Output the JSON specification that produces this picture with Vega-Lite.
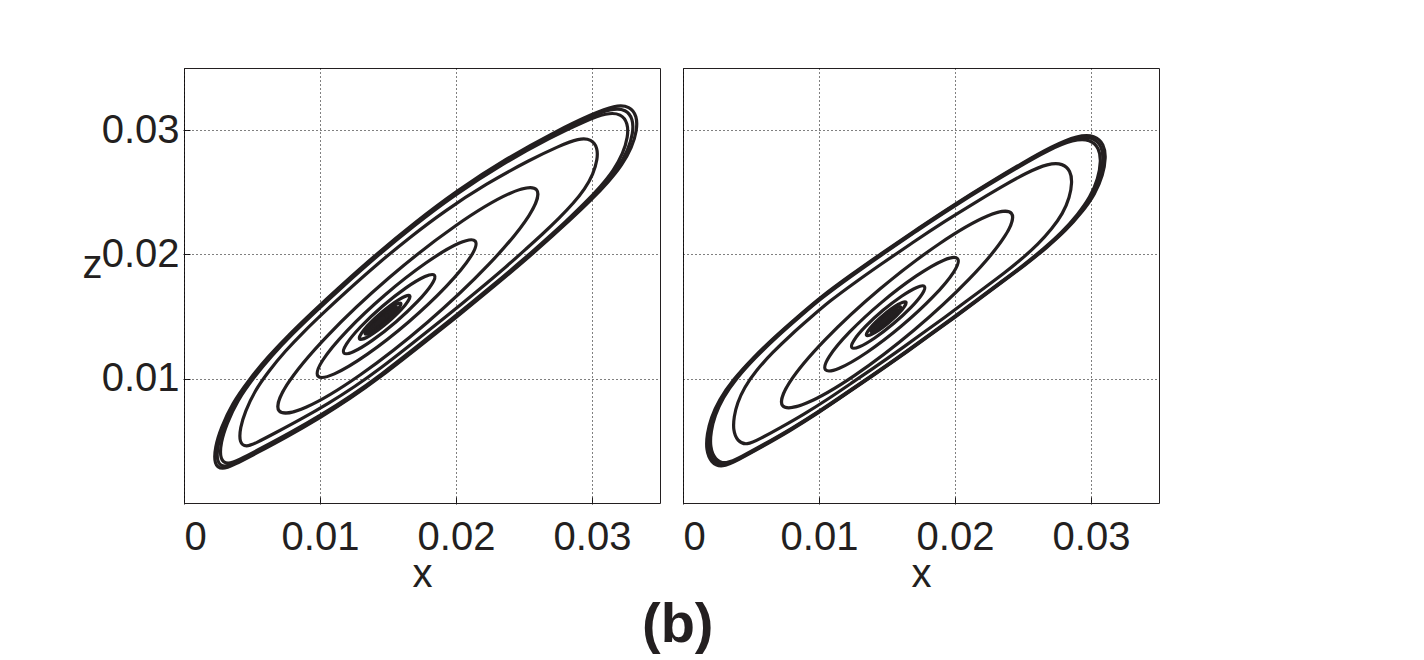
{
"$schema": "https://vega.github.io/schema/vega-lite/v6.json",
"background": "white",
"padding": {"left": 82, "top": 67, "right": 5, "bottom": 5},
"data": {"values": [
{"p":"L","l":"L1","i":1,"x":0.002206,"z":0.003065},{"p":"L","l":"L1","i":2,"x":0.002279,"z":0.004516},{"p":"L","l":"L1","i":3,"x":0.002721,"z":0.006048},{"p":"L","l":"L1","i":4,"x":0.003529,"z":0.007984},{"p":"L","l":"L1","i":5,"x":0.004779,"z":0.009919},{"p":"L","l":"L1","i":6,"x":0.006176,"z":0.011774},{"p":"L","l":"L1","i":7,"x":0.007794,"z":0.013629},{"p":"L","l":"L1","i":8,"x":0.009559,"z":0.015484},{"p":"L","l":"L1","i":9,"x":0.011471,"z":0.017419},{"p":"L","l":"L1","i":10,"x":0.014118,"z":0.02},{"p":"L","l":"L1","i":11,"x":0.016985,"z":0.022581},{"p":"L","l":"L1","i":12,"x":0.02,"z":0.025081},{"p":"L","l":"L1","i":13,"x":0.023603,"z":0.027661},{"p":"L","l":"L1","i":14,"x":0.0275,"z":0.03},{"p":"L","l":"L1","i":15,"x":0.03,"z":0.03129},{"p":"L","l":"L1","i":16,"x":0.031691,"z":0.032016},{"p":"L","l":"L1","i":17,"x":0.032794,"z":0.031935},{"p":"L","l":"L1","i":18,"x":0.033309,"z":0.031129},{"p":"L","l":"L1","i":19,"x":0.033309,"z":0.03},{"p":"L","l":"L1","i":20,"x":0.032941,"z":0.028629},{"p":"L","l":"L1","i":21,"x":0.032206,"z":0.027177},{"p":"L","l":"L1","i":22,"x":0.03125,"z":0.025887},{"p":"L","l":"L1","i":23,"x":0.03,"z":0.024435},{"p":"L","l":"L1","i":24,"x":0.028529,"z":0.022903},{"p":"L","l":"L1","i":25,"x":0.027059,"z":0.021452},{"p":"L","l":"L1","i":26,"x":0.025588,"z":0.02},{"p":"L","l":"L1","i":27,"x":0.022794,"z":0.017419},{"p":"L","l":"L1","i":28,"x":0.02,"z":0.014919},{"p":"L","l":"L1","i":29,"x":0.017206,"z":0.0125},{"p":"L","l":"L1","i":30,"x":0.014485,"z":0.010161},{"p":"L","l":"L1","i":31,"x":0.012206,"z":0.008387},{"p":"L","l":"L1","i":32,"x":0.01,"z":0.006855},{"p":"L","l":"L1","i":33,"x":0.007574,"z":0.005323},{"p":"L","l":"L1","i":34,"x":0.005221,"z":0.003952},{"p":"L","l":"L1","i":35,"x":0.003676,"z":0.003065},{"p":"L","l":"L1","i":36,"x":0.002794,"z":0.002661},
{"p":"L","l":"L2","i":1,"x":0.002388,"z":0.003238},{"p":"L","l":"L2","i":2,"x":0.00246,"z":0.004667},{"p":"L","l":"L2","i":3,"x":0.002895,"z":0.006176},{"p":"L","l":"L2","i":4,"x":0.003691,"z":0.008083},{"p":"L","l":"L2","i":5,"x":0.004922,"z":0.009989},{"p":"L","l":"L2","i":6,"x":0.006298,"z":0.011816},{"p":"L","l":"L2","i":7,"x":0.007892,"z":0.013644},{"p":"L","l":"L2","i":8,"x":0.009631,"z":0.015471},{"p":"L","l":"L2","i":9,"x":0.011514,"z":0.017377},{"p":"L","l":"L2","i":10,"x":0.014121,"z":0.019919},{"p":"L","l":"L2","i":11,"x":0.016945,"z":0.022461},{"p":"L","l":"L2","i":12,"x":0.019915,"z":0.024924},{"p":"L","l":"L2","i":13,"x":0.023464,"z":0.027465},{"p":"L","l":"L2","i":14,"x":0.027303,"z":0.029769},{"p":"L","l":"L2","i":15,"x":0.029765,"z":0.03104},{"p":"L","l":"L2","i":16,"x":0.031431,"z":0.031755},{"p":"L","l":"L2","i":17,"x":0.032517,"z":0.031675},{"p":"L","l":"L2","i":18,"x":0.033024,"z":0.030881},{"p":"L","l":"L2","i":19,"x":0.033024,"z":0.029769},{"p":"L","l":"L2","i":20,"x":0.032662,"z":0.028419},{"p":"L","l":"L2","i":21,"x":0.031938,"z":0.026988},{"p":"L","l":"L2","i":22,"x":0.030996,"z":0.025718},{"p":"L","l":"L2","i":23,"x":0.029765,"z":0.024287},{"p":"L","l":"L2","i":24,"x":0.028316,"z":0.022778},{"p":"L","l":"L2","i":25,"x":0.026868,"z":0.021349},{"p":"L","l":"L2","i":26,"x":0.025419,"z":0.019919},{"p":"L","l":"L2","i":27,"x":0.022667,"z":0.017377},{"p":"L","l":"L2","i":28,"x":0.019915,"z":0.014914},{"p":"L","l":"L2","i":29,"x":0.017163,"z":0.012531},{"p":"L","l":"L2","i":30,"x":0.014483,"z":0.010228},{"p":"L","l":"L2","i":31,"x":0.012238,"z":0.00848},{"p":"L","l":"L2","i":32,"x":0.010065,"z":0.006971},{"p":"L","l":"L2","i":33,"x":0.007675,"z":0.005462},{"p":"L","l":"L2","i":34,"x":0.005358,"z":0.004112},{"p":"L","l":"L2","i":35,"x":0.003836,"z":0.003238},{"p":"L","l":"L2","i":36,"x":0.002967,"z":0.00284},
{"p":"L","l":"L3","i":1,"x":0.002631,"z":0.003469},{"p":"L","l":"L3","i":2,"x":0.002701,"z":0.004869},{"p":"L","l":"L3","i":3,"x":0.003128,"z":0.006347},{"p":"L","l":"L3","i":4,"x":0.003907,"z":0.008215},{"p":"L","l":"L3","i":5,"x":0.005114,"z":0.010083},{"p":"L","l":"L3","i":6,"x":0.006462,"z":0.011873},{"p":"L","l":"L3","i":7,"x":0.008023,"z":0.013663},{"p":"L","l":"L3","i":8,"x":0.009726,"z":0.015453},{"p":"L","l":"L3","i":9,"x":0.011571,"z":0.01732},{"p":"L","l":"L3","i":10,"x":0.014126,"z":0.019811},{"p":"L","l":"L3","i":11,"x":0.016892,"z":0.022302},{"p":"L","l":"L3","i":12,"x":0.019802,"z":0.024714},{"p":"L","l":"L3","i":13,"x":0.023279,"z":0.027204},{"p":"L","l":"L3","i":14,"x":0.027039,"z":0.029461},{"p":"L","l":"L3","i":15,"x":0.029452,"z":0.030706},{"p":"L","l":"L3","i":16,"x":0.031084,"z":0.031406},{"p":"L","l":"L3","i":17,"x":0.032148,"z":0.031328},{"p":"L","l":"L3","i":18,"x":0.032645,"z":0.03055},{"p":"L","l":"L3","i":19,"x":0.032645,"z":0.029461},{"p":"L","l":"L3","i":20,"x":0.03229,"z":0.028138},{"p":"L","l":"L3","i":21,"x":0.031581,"z":0.026737},{"p":"L","l":"L3","i":22,"x":0.030658,"z":0.025492},{"p":"L","l":"L3","i":23,"x":0.029452,"z":0.024091},{"p":"L","l":"L3","i":24,"x":0.028032,"z":0.022612},{"p":"L","l":"L3","i":25,"x":0.026614,"z":0.021212},{"p":"L","l":"L3","i":26,"x":0.025194,"z":0.019811},{"p":"L","l":"L3","i":27,"x":0.022498,"z":0.01732},{"p":"L","l":"L3","i":28,"x":0.019802,"z":0.014908},{"p":"L","l":"L3","i":29,"x":0.017106,"z":0.012573},{"p":"L","l":"L3","i":30,"x":0.01448,"z":0.010316},{"p":"L","l":"L3","i":31,"x":0.012281,"z":0.008604},{"p":"L","l":"L3","i":32,"x":0.010152,"z":0.007126},{"p":"L","l":"L3","i":33,"x":0.007811,"z":0.005648},{"p":"L","l":"L3","i":34,"x":0.00554,"z":0.004325},{"p":"L","l":"L3","i":35,"x":0.004049,"z":0.003469},{"p":"L","l":"L3","i":36,"x":0.003198,"z":0.003079},
{"p":"L","l":"L4","i":1,"x":0.004062,"z":0.004829},{"p":"L","l":"L4","i":2,"x":0.004124,"z":0.006058},{"p":"L","l":"L4","i":3,"x":0.004498,"z":0.007356},{"p":"L","l":"L4","i":4,"x":0.005183,"z":0.008996},{"p":"L","l":"L4","i":5,"x":0.006242,"z":0.010635},{"p":"L","l":"L4","i":6,"x":0.007425,"z":0.012206},{"p":"L","l":"L4","i":7,"x":0.008795,"z":0.013777},{"p":"L","l":"L4","i":8,"x":0.01029,"z":0.015348},{"p":"L","l":"L4","i":9,"x":0.01191,"z":0.016987},{"p":"L","l":"L4","i":10,"x":0.014152,"z":0.019173},{"p":"L","l":"L4","i":11,"x":0.01658,"z":0.021359},{"p":"L","l":"L4","i":12,"x":0.019134,"z":0.023477},{"p":"L","l":"L4","i":13,"x":0.022185,"z":0.025662},{"p":"L","l":"L4","i":14,"x":0.025486,"z":0.027643},{"p":"L","l":"L4","i":15,"x":0.027604,"z":0.028736},{"p":"L","l":"L4","i":16,"x":0.029036,"z":0.029351},{"p":"L","l":"L4","i":17,"x":0.02997,"z":0.029282},{"p":"L","l":"L4","i":18,"x":0.030406,"z":0.0286},{"p":"L","l":"L4","i":19,"x":0.030406,"z":0.027643},{"p":"L","l":"L4","i":20,"x":0.030095,"z":0.026482},{"p":"L","l":"L4","i":21,"x":0.029472,"z":0.025252},{"p":"L","l":"L4","i":22,"x":0.028662,"z":0.02416},{"p":"L","l":"L4","i":23,"x":0.027604,"z":0.02293},{"p":"L","l":"L4","i":24,"x":0.026358,"z":0.021632},{"p":"L","l":"L4","i":25,"x":0.025113,"z":0.020403},{"p":"L","l":"L4","i":26,"x":0.023867,"z":0.019173},{"p":"L","l":"L4","i":27,"x":0.0215,"z":0.016987},{"p":"L","l":"L4","i":28,"x":0.019134,"z":0.01487},{"p":"L","l":"L4","i":29,"x":0.016767,"z":0.012821},{"p":"L","l":"L4","i":30,"x":0.014463,"z":0.01084},{"p":"L","l":"L4","i":31,"x":0.012532,"z":0.009337},{"p":"L","l":"L4","i":32,"x":0.010664,"z":0.00804},{"p":"L","l":"L4","i":33,"x":0.008609,"z":0.006742},{"p":"L","l":"L4","i":34,"x":0.006616,"z":0.005581},{"p":"L","l":"L4","i":35,"x":0.005307,"z":0.004829},{"p":"L","l":"L4","i":36,"x":0.00456,"z":0.004487},
{"p":"L","l":"L5","i":1,"x":0.025921,"z":0.025198},{"p":"L","l":"L5","i":2,"x":0.025356,"z":0.023108},{"p":"L","l":"L5","i":3,"x":0.022407,"z":0.019195},{"p":"L","l":"L5","i":4,"x":0.017864,"z":0.014508},{"p":"L","l":"L5","i":5,"x":0.012945,"z":0.010302},{"p":"L","l":"L5","i":6,"x":0.008969,"z":0.007705},{"p":"L","l":"L5","i":7,"x":0.006999,"z":0.007412},{"p":"L","l":"L5","i":8,"x":0.007564,"z":0.009503},{"p":"L","l":"L5","i":9,"x":0.010513,"z":0.013415},{"p":"L","l":"L5","i":10,"x":0.015056,"z":0.018102},{"p":"L","l":"L5","i":11,"x":0.019975,"z":0.022308},{"p":"L","l":"L5","i":12,"x":0.023951,"z":0.024905},
{"p":"L","l":"L6","i":1,"x":0.021412,"z":0.021072},{"p":"L","l":"L6","i":2,"x":0.021067,"z":0.019795},{"p":"L","l":"L6","i":3,"x":0.019266,"z":0.017405},{"p":"L","l":"L6","i":4,"x":0.016492,"z":0.014543},{"p":"L","l":"L6","i":5,"x":0.013487,"z":0.011974},{"p":"L","l":"L6","i":6,"x":0.011059,"z":0.010388},{"p":"L","l":"L6","i":7,"x":0.009856,"z":0.010209},{"p":"L","l":"L6","i":8,"x":0.010201,"z":0.011486},{"p":"L","l":"L6","i":9,"x":0.012002,"z":0.013875},{"p":"L","l":"L6","i":10,"x":0.014776,"z":0.016738},{"p":"L","l":"L6","i":11,"x":0.017781,"z":0.019307},{"p":"L","l":"L6","i":12,"x":0.020209,"z":0.020893},
{"p":"L","l":"L7","i":1,"x":0.018413,"z":0.018326},{"p":"L","l":"L7","i":2,"x":0.018214,"z":0.017591},{"p":"L","l":"L7","i":3,"x":0.017177,"z":0.016215},{"p":"L","l":"L7","i":4,"x":0.015578,"z":0.014566},{"p":"L","l":"L7","i":5,"x":0.013848,"z":0.013086},{"p":"L","l":"L7","i":6,"x":0.012449,"z":0.012172},{"p":"L","l":"L7","i":7,"x":0.011756,"z":0.012069},{"p":"L","l":"L7","i":8,"x":0.011955,"z":0.012805},{"p":"L","l":"L7","i":9,"x":0.012992,"z":0.014181},{"p":"L","l":"L7","i":10,"x":0.014591,"z":0.01583},{"p":"L","l":"L7","i":11,"x":0.016321,"z":0.01731},{"p":"L","l":"L7","i":12,"x":0.01772,"z":0.018223},
{"p":"L","l":"L8","i":1,"x":0.016602,"z":0.016669},{"p":"L","l":"L8","i":2,"x":0.016254,"z":0.015911},{"p":"L","l":"L8","i":3,"x":0.015027,"z":0.01458},{"p":"L","l":"L8","i":4,"x":0.013639,"z":0.013453},{"p":"L","l":"L8","i":5,"x":0.012904,"z":0.013193},{"p":"L","l":"L8","i":6,"x":0.013251,"z":0.01395},{"p":"L","l":"L8","i":7,"x":0.014478,"z":0.015282},{"p":"L","l":"L8","i":8,"x":0.015866,"z":0.016408},
{"p":"L","l":"L9","i":1,"x":0.015942,"z":0.016065},{"p":"L","l":"L9","i":2,"x":0.015695,"z":0.015528},{"p":"L","l":"L9","i":3,"x":0.014826,"z":0.014585},{"p":"L","l":"L9","i":4,"x":0.013843,"z":0.013787},{"p":"L","l":"L9","i":5,"x":0.013322,"z":0.013602},{"p":"L","l":"L9","i":6,"x":0.013568,"z":0.014139},{"p":"L","l":"L9","i":7,"x":0.014437,"z":0.015082},{"p":"L","l":"L9","i":8,"x":0.01542,"z":0.01588},
{"p":"L","l":"L10","i":1,"x":0.015621,"z":0.015771},{"p":"L","l":"L10","i":2,"x":0.015424,"z":0.015342},{"p":"L","l":"L10","i":3,"x":0.014729,"z":0.014587},{"p":"L","l":"L10","i":4,"x":0.013942,"z":0.013949},{"p":"L","l":"L10","i":5,"x":0.013525,"z":0.013801},{"p":"L","l":"L10","i":6,"x":0.013722,"z":0.01423},{"p":"L","l":"L10","i":7,"x":0.014417,"z":0.014985},{"p":"L","l":"L10","i":8,"x":0.015204,"z":0.015623},
{"p":"L","l":"L11","i":1,"x":0.015357,"z":0.015529},{"p":"L","l":"L11","i":2,"x":0.0152,"z":0.015189},{"p":"L","l":"L11","i":3,"x":0.014648,"z":0.014589},{"p":"L","l":"L11","i":4,"x":0.014024,"z":0.014082},{"p":"L","l":"L11","i":5,"x":0.013693,"z":0.013965},{"p":"L","l":"L11","i":6,"x":0.013849,"z":0.014306},{"p":"L","l":"L11","i":7,"x":0.014401,"z":0.014905},{"p":"L","l":"L11","i":8,"x":0.015026,"z":0.015412},
{"p":"L","l":"L12","i":1,"x":0.01513,"z":0.015322},{"p":"L","l":"L12","i":2,"x":0.015009,"z":0.015057},{"p":"L","l":"L12","i":3,"x":0.014579,"z":0.014591},{"p":"L","l":"L12","i":4,"x":0.014093,"z":0.014197},{"p":"L","l":"L12","i":5,"x":0.013836,"z":0.014106},{"p":"L","l":"L12","i":6,"x":0.013958,"z":0.014371},{"p":"L","l":"L12","i":7,"x":0.014387,"z":0.014837},{"p":"L","l":"L12","i":8,"x":0.014873,"z":0.015231},
{"p":"L","l":"L13","i":1,"x":0.014923,"z":0.015132},{"p":"L","l":"L13","i":2,"x":0.014833,"z":0.014937},{"p":"L","l":"L13","i":3,"x":0.014516,"z":0.014593},{"p":"L","l":"L13","i":4,"x":0.014157,"z":0.014302},{"p":"L","l":"L13","i":5,"x":0.013967,"z":0.014234},{"p":"L","l":"L13","i":6,"x":0.014057,"z":0.01443},{"p":"L","l":"L13","i":7,"x":0.014374,"z":0.014774},{"p":"L","l":"L13","i":8,"x":0.014733,"z":0.015065},
{"p":"L","l":"L14","i":1,"x":0.014715,"z":0.014942},{"p":"L","l":"L14","i":2,"x":0.014657,"z":0.014816},{"p":"L","l":"L14","i":3,"x":0.014453,"z":0.014594},{"p":"L","l":"L14","i":4,"x":0.014222,"z":0.014406},{"p":"L","l":"L14","i":5,"x":0.014099,"z":0.014363},{"p":"L","l":"L14","i":6,"x":0.014157,"z":0.014489},{"p":"L","l":"L14","i":7,"x":0.014361,"z":0.014711},{"p":"L","l":"L14","i":8,"x":0.014593,"z":0.014899},
{"p":"R","l":"R1","i":1,"x":0.001691,"z":0.004274},{"p":"R","l":"R1","i":2,"x":0.001765,"z":0.005565},{"p":"R","l":"R1","i":3,"x":0.002059,"z":0.006855},{"p":"R","l":"R1","i":4,"x":0.002647,"z":0.008306},{"p":"R","l":"R1","i":5,"x":0.003676,"z":0.009919},{"p":"R","l":"R1","i":6,"x":0.005074,"z":0.011613},{"p":"R","l":"R1","i":7,"x":0.006765,"z":0.013387},{"p":"R","l":"R1","i":8,"x":0.008456,"z":0.015},{"p":"R","l":"R1","i":9,"x":0.010074,"z":0.016532},{"p":"R","l":"R1","i":10,"x":0.012279,"z":0.018306},{"p":"R","l":"R1","i":11,"x":0.014485,"z":0.02},{"p":"R","l":"R1","i":12,"x":0.017279,"z":0.022097},{"p":"R","l":"R1","i":13,"x":0.020074,"z":0.024113},{"p":"R","l":"R1","i":14,"x":0.022574,"z":0.025806},{"p":"R","l":"R1","i":15,"x":0.024926,"z":0.027339},{"p":"R","l":"R1","i":16,"x":0.027132,"z":0.02871},{"p":"R","l":"R1","i":17,"x":0.029044,"z":0.029597},{"p":"R","l":"R1","i":18,"x":0.030294,"z":0.029597},{"p":"R","l":"R1","i":19,"x":0.030956,"z":0.028871},{"p":"R","l":"R1","i":20,"x":0.031103,"z":0.027823},{"p":"R","l":"R1","i":21,"x":0.030882,"z":0.026371},{"p":"R","l":"R1","i":22,"x":0.030294,"z":0.024839},{"p":"R","l":"R1","i":23,"x":0.029338,"z":0.023387},{"p":"R","l":"R1","i":24,"x":0.028162,"z":0.021935},{"p":"R","l":"R1","i":25,"x":0.026765,"z":0.020565},{"p":"R","l":"R1","i":26,"x":0.02522,"z":0.019194},{"p":"R","l":"R1","i":27,"x":0.023529,"z":0.017823},{"p":"R","l":"R1","i":28,"x":0.021838,"z":0.016452},{"p":"R","l":"R1","i":29,"x":0.020074,"z":0.015},{"p":"R","l":"R1","i":30,"x":0.018015,"z":0.013387},{"p":"R","l":"R1","i":31,"x":0.015882,"z":0.011694},{"p":"R","l":"R1","i":32,"x":0.01375,"z":0.010081},{"p":"R","l":"R1","i":33,"x":0.011912,"z":0.00871},{"p":"R","l":"R1","i":34,"x":0.010074,"z":0.007339},{"p":"R","l":"R1","i":35,"x":0.007868,"z":0.005806},{"p":"R","l":"R1","i":36,"x":0.005662,"z":0.004435},{"p":"R","l":"R1","i":37,"x":0.004044,"z":0.003468},{"p":"R","l":"R1","i":38,"x":0.002868,"z":0.002823},{"p":"R","l":"R1","i":39,"x":0.002059,"z":0.003226},
{"p":"R","l":"R2","i":1,"x":0.001822,"z":0.004378},{"p":"R","l":"R2","i":2,"x":0.001895,"z":0.005656},{"p":"R","l":"R2","i":3,"x":0.002186,"z":0.006933},{"p":"R","l":"R2","i":4,"x":0.002768,"z":0.00837},{"p":"R","l":"R2","i":5,"x":0.003787,"z":0.009967},{"p":"R","l":"R2","i":6,"x":0.005171,"z":0.011644},{"p":"R","l":"R2","i":7,"x":0.006845,"z":0.0134},{"p":"R","l":"R2","i":8,"x":0.008519,"z":0.014997},{"p":"R","l":"R2","i":9,"x":0.010121,"z":0.016513},{"p":"R","l":"R2","i":10,"x":0.012304,"z":0.01827},{"p":"R","l":"R2","i":11,"x":0.014488,"z":0.019947},{"p":"R","l":"R2","i":12,"x":0.017254,"z":0.022023},{"p":"R","l":"R2","i":13,"x":0.020021,"z":0.024019},{"p":"R","l":"R2","i":14,"x":0.022496,"z":0.025695},{"p":"R","l":"R2","i":15,"x":0.024825,"z":0.027212},{"p":"R","l":"R2","i":16,"x":0.027008,"z":0.02857},{"p":"R","l":"R2","i":17,"x":0.028901,"z":0.029448},{"p":"R","l":"R2","i":18,"x":0.030139,"z":0.029448},{"p":"R","l":"R2","i":19,"x":0.030794,"z":0.028729},{"p":"R","l":"R2","i":20,"x":0.03094,"z":0.027692},{"p":"R","l":"R2","i":21,"x":0.030721,"z":0.026254},{"p":"R","l":"R2","i":22,"x":0.030139,"z":0.024737},{"p":"R","l":"R2","i":23,"x":0.029192,"z":0.0233},{"p":"R","l":"R2","i":24,"x":0.028028,"z":0.021862},{"p":"R","l":"R2","i":25,"x":0.026645,"z":0.020506},{"p":"R","l":"R2","i":26,"x":0.025116,"z":0.019149},{"p":"R","l":"R2","i":27,"x":0.023441,"z":0.017792},{"p":"R","l":"R2","i":28,"x":0.021767,"z":0.016434},{"p":"R","l":"R2","i":29,"x":0.020021,"z":0.014997},{"p":"R","l":"R2","i":30,"x":0.017983,"z":0.0134},{"p":"R","l":"R2","i":31,"x":0.015871,"z":0.011724},{"p":"R","l":"R2","i":32,"x":0.01376,"z":0.010127},{"p":"R","l":"R2","i":33,"x":0.011941,"z":0.00877},{"p":"R","l":"R2","i":34,"x":0.010121,"z":0.007412},{"p":"R","l":"R2","i":35,"x":0.007937,"z":0.005895},{"p":"R","l":"R2","i":36,"x":0.005753,"z":0.004537},{"p":"R","l":"R2","i":37,"x":0.004151,"z":0.00358},{"p":"R","l":"R2","i":38,"x":0.002987,"z":0.002942},{"p":"R","l":"R2","i":39,"x":0.002186,"z":0.003341},
{"p":"R","l":"R3","i":1,"x":0.001979,"z":0.004503},{"p":"R","l":"R3","i":2,"x":0.002051,"z":0.005765},{"p":"R","l":"R3","i":3,"x":0.002339,"z":0.007027},{"p":"R","l":"R3","i":4,"x":0.002914,"z":0.008446},{"p":"R","l":"R3","i":5,"x":0.00392,"z":0.010024},{"p":"R","l":"R3","i":6,"x":0.005288,"z":0.01168},{"p":"R","l":"R3","i":7,"x":0.006941,"z":0.013415},{"p":"R","l":"R3","i":8,"x":0.008595,"z":0.014993},{"p":"R","l":"R3","i":9,"x":0.010178,"z":0.016491},{"p":"R","l":"R3","i":10,"x":0.012334,"z":0.018226},{"p":"R","l":"R3","i":11,"x":0.014491,"z":0.019883},{"p":"R","l":"R3","i":12,"x":0.017224,"z":0.021934},{"p":"R","l":"R3","i":13,"x":0.019958,"z":0.023905},{"p":"R","l":"R3","i":14,"x":0.022403,"z":0.025561},{"p":"R","l":"R3","i":15,"x":0.024703,"z":0.02706},{"p":"R","l":"R3","i":16,"x":0.02686,"z":0.028401},{"p":"R","l":"R3","i":17,"x":0.02873,"z":0.029269},{"p":"R","l":"R3","i":18,"x":0.029953,"z":0.029269},{"p":"R","l":"R3","i":19,"x":0.0306,"z":0.028559},{"p":"R","l":"R3","i":20,"x":0.030744,"z":0.027534},{"p":"R","l":"R3","i":21,"x":0.030528,"z":0.026114},{"p":"R","l":"R3","i":22,"x":0.029953,"z":0.024615},{"p":"R","l":"R3","i":23,"x":0.029018,"z":0.023195},{"p":"R","l":"R3","i":24,"x":0.027868,"z":0.021775},{"p":"R","l":"R3","i":25,"x":0.026501,"z":0.020435},{"p":"R","l":"R3","i":26,"x":0.02499,"z":0.019095},{"p":"R","l":"R3","i":27,"x":0.023336,"z":0.017754},{"p":"R","l":"R3","i":28,"x":0.021683,"z":0.016413},{"p":"R","l":"R3","i":29,"x":0.019958,"z":0.014993},{"p":"R","l":"R3","i":30,"x":0.017944,"z":0.013415},{"p":"R","l":"R3","i":31,"x":0.015858,"z":0.01176},{"p":"R","l":"R3","i":32,"x":0.013773,"z":0.010182},{"p":"R","l":"R3","i":33,"x":0.011975,"z":0.008841},{"p":"R","l":"R3","i":34,"x":0.010178,"z":0.0075},{"p":"R","l":"R3","i":35,"x":0.00802,"z":0.006001},{"p":"R","l":"R3","i":36,"x":0.005863,"z":0.00466},{"p":"R","l":"R3","i":37,"x":0.00428,"z":0.003715},{"p":"R","l":"R3","i":38,"x":0.00313,"z":0.003084},{"p":"R","l":"R3","i":39,"x":0.002339,"z":0.003478},
{"p":"R","l":"R4","i":1,"x":0.00368,"z":0.005855},{"p":"R","l":"R4","i":2,"x":0.003743,"z":0.00695},{"p":"R","l":"R4","i":3,"x":0.003992,"z":0.008044},{"p":"R","l":"R4","i":4,"x":0.004491,"z":0.009274},{"p":"R","l":"R4","i":5,"x":0.005364,"z":0.010642},{"p":"R","l":"R4","i":6,"x":0.006549,"z":0.012079},{"p":"R","l":"R4","i":7,"x":0.007983,"z":0.013583},{"p":"R","l":"R4","i":8,"x":0.009417,"z":0.014951},{"p":"R","l":"R4","i":9,"x":0.010789,"z":0.01625},{"p":"R","l":"R4","i":10,"x":0.012659,"z":0.017754},{"p":"R","l":"R4","i":11,"x":0.01453,"z":0.019191},{"p":"R","l":"R4","i":12,"x":0.016899,"z":0.020969},{"p":"R","l":"R4","i":13,"x":0.019269,"z":0.022679},{"p":"R","l":"R4","i":14,"x":0.021389,"z":0.024114},{"p":"R","l":"R4","i":15,"x":0.023384,"z":0.025414},{"p":"R","l":"R4","i":16,"x":0.025254,"z":0.026577},{"p":"R","l":"R4","i":17,"x":0.026876,"z":0.027329},{"p":"R","l":"R4","i":18,"x":0.027936,"z":0.027329},{"p":"R","l":"R4","i":19,"x":0.028497,"z":0.026714},{"p":"R","l":"R4","i":20,"x":0.028622,"z":0.025825},{"p":"R","l":"R4","i":21,"x":0.028434,"z":0.024594},{"p":"R","l":"R4","i":22,"x":0.027936,"z":0.023294},{"p":"R","l":"R4","i":23,"x":0.027125,"z":0.022063},{"p":"R","l":"R4","i":24,"x":0.026128,"z":0.020832},{"p":"R","l":"R4","i":25,"x":0.024943,"z":0.01967},{"p":"R","l":"R4","i":26,"x":0.023633,"z":0.018507},{"p":"R","l":"R4","i":27,"x":0.022199,"z":0.017345},{"p":"R","l":"R4","i":28,"x":0.020765,"z":0.016182},{"p":"R","l":"R4","i":29,"x":0.019269,"z":0.014951},{"p":"R","l":"R4","i":30,"x":0.017523,"z":0.013583},{"p":"R","l":"R4","i":31,"x":0.015714,"z":0.012147},{"p":"R","l":"R4","i":32,"x":0.013906,"z":0.01078},{"p":"R","l":"R4","i":33,"x":0.012348,"z":0.009617},{"p":"R","l":"R4","i":34,"x":0.010789,"z":0.008454},{"p":"R","l":"R4","i":35,"x":0.008918,"z":0.007154},{"p":"R","l":"R4","i":36,"x":0.007048,"z":0.005992},{"p":"R","l":"R4","i":37,"x":0.005676,"z":0.005172},{"p":"R","l":"R4","i":38,"x":0.004678,"z":0.004625},{"p":"R","l":"R4","i":39,"x":0.003992,"z":0.004967},
{"p":"R","l":"R5","i":1,"x":0.024147,"z":0.023305},{"p":"R","l":"R5","i":2,"x":0.02365,"z":0.021444},{"p":"R","l":"R5","i":3,"x":0.021035,"z":0.018008},{"p":"R","l":"R5","i":4,"x":0.016999,"z":0.013917},{"p":"R","l":"R5","i":5,"x":0.012626,"z":0.010268},{"p":"R","l":"R5","i":6,"x":0.009087,"z":0.008039},{"p":"R","l":"R5","i":7,"x":0.00733,"z":0.007826},{"p":"R","l":"R5","i":8,"x":0.007827,"z":0.009687},{"p":"R","l":"R5","i":9,"x":0.010442,"z":0.013123},{"p":"R","l":"R5","i":10,"x":0.014477,"z":0.017214},{"p":"R","l":"R5","i":11,"x":0.018851,"z":0.020863},{"p":"R","l":"R5","i":12,"x":0.022389,"z":0.023092},
{"p":"R","l":"R6","i":1,"x":0.02019,"z":0.01966},{"p":"R","l":"R6","i":2,"x":0.019903,"z":0.018585},{"p":"R","l":"R6","i":3,"x":0.018392,"z":0.016601},{"p":"R","l":"R6","i":4,"x":0.016061,"z":0.014238},{"p":"R","l":"R6","i":5,"x":0.013535,"z":0.012131},{"p":"R","l":"R6","i":6,"x":0.011492,"z":0.010843},{"p":"R","l":"R6","i":7,"x":0.010477,"z":0.01072},{"p":"R","l":"R6","i":8,"x":0.010763,"z":0.011795},{"p":"R","l":"R6","i":9,"x":0.012274,"z":0.01378},{"p":"R","l":"R6","i":10,"x":0.014605,"z":0.016142},{"p":"R","l":"R6","i":11,"x":0.017131,"z":0.01825},{"p":"R","l":"R6","i":12,"x":0.019175,"z":0.019538},
{"p":"R","l":"R7","i":1,"x":0.017751,"z":0.017414},{"p":"R","l":"R7","i":2,"x":0.017593,"z":0.016824},{"p":"R","l":"R7","i":3,"x":0.016764,"z":0.015734},{"p":"R","l":"R7","i":4,"x":0.015483,"z":0.014436},{"p":"R","l":"R7","i":5,"x":0.014096,"z":0.013278},{"p":"R","l":"R7","i":6,"x":0.012973,"z":0.012571},{"p":"R","l":"R7","i":7,"x":0.012416,"z":0.012504},{"p":"R","l":"R7","i":8,"x":0.012573,"z":0.013094},{"p":"R","l":"R7","i":9,"x":0.013403,"z":0.014184},{"p":"R","l":"R7","i":10,"x":0.014683,"z":0.015482},{"p":"R","l":"R7","i":11,"x":0.016071,"z":0.016639},{"p":"R","l":"R7","i":12,"x":0.017193,"z":0.017347},
{"p":"R","l":"R8","i":1,"x":0.016394,"z":0.016165},{"p":"R","l":"R8","i":2,"x":0.016123,"z":0.015573},{"p":"R","l":"R8","i":3,"x":0.015162,"z":0.014546},{"p":"R","l":"R8","i":4,"x":0.014073,"z":0.013686},{"p":"R","l":"R8","i":5,"x":0.013495,"z":0.013496},{"p":"R","l":"R8","i":6,"x":0.013766,"z":0.014088},{"p":"R","l":"R8","i":7,"x":0.014727,"z":0.015114},{"p":"R","l":"R8","i":8,"x":0.015816,"z":0.015975},
{"p":"R","l":"R9","i":1,"x":0.01599,"z":0.015793},{"p":"R","l":"R9","i":2,"x":0.015787,"z":0.015349},{"p":"R","l":"R9","i":3,"x":0.015066,"z":0.014579},{"p":"R","l":"R9","i":4,"x":0.014249,"z":0.013933},{"p":"R","l":"R9","i":5,"x":0.013816,"z":0.013791},{"p":"R","l":"R9","i":6,"x":0.014019,"z":0.014235},{"p":"R","l":"R9","i":7,"x":0.01474,"z":0.015005},{"p":"R","l":"R9","i":8,"x":0.015557,"z":0.01565},
{"p":"R","l":"R10","i":1,"x":0.015748,"z":0.01557},{"p":"R","l":"R10","i":2,"x":0.015586,"z":0.015214},{"p":"R","l":"R10","i":3,"x":0.015009,"z":0.014598},{"p":"R","l":"R10","i":4,"x":0.014355,"z":0.014082},{"p":"R","l":"R10","i":5,"x":0.014008,"z":0.013968},{"p":"R","l":"R10","i":6,"x":0.014171,"z":0.014323},{"p":"R","l":"R10","i":7,"x":0.014748,"z":0.014939},{"p":"R","l":"R10","i":8,"x":0.015401,"z":0.015456},
{"p":"R","l":"R11","i":1,"x":0.015538,"z":0.015376},{"p":"R","l":"R11","i":2,"x":0.015411,"z":0.015098},{"p":"R","l":"R11","i":3,"x":0.014959,"z":0.014615},{"p":"R","l":"R11","i":4,"x":0.014447,"z":0.014211},{"p":"R","l":"R11","i":5,"x":0.014175,"z":0.014122},{"p":"R","l":"R11","i":6,"x":0.014303,"z":0.0144},{"p":"R","l":"R11","i":7,"x":0.014755,"z":0.014883},{"p":"R","l":"R11","i":8,"x":0.015266,"z":0.015287},
{"p":"R","l":"R12","i":1,"x":0.015344,"z":0.015198},{"p":"R","l":"R12","i":2,"x":0.015249,"z":0.014991},{"p":"R","l":"R12","i":3,"x":0.014913,"z":0.014631},{"p":"R","l":"R12","i":4,"x":0.014532,"z":0.01433},{"p":"R","l":"R12","i":5,"x":0.014329,"z":0.014264},{"p":"R","l":"R12","i":6,"x":0.014424,"z":0.014471},{"p":"R","l":"R12","i":7,"x":0.014761,"z":0.01483},{"p":"R","l":"R12","i":8,"x":0.015142,"z":0.015131},
{"p":"R","l":"R13","i":1,"x":0.015167,"z":0.015034},{"p":"R","l":"R13","i":2,"x":0.015102,"z":0.014892},{"p":"R","l":"R13","i":3,"x":0.014871,"z":0.014646},{"p":"R","l":"R13","i":4,"x":0.01461,"z":0.014439},{"p":"R","l":"R13","i":5,"x":0.014471,"z":0.014394},{"p":"R","l":"R13","i":6,"x":0.014536,"z":0.014536},{"p":"R","l":"R13","i":7,"x":0.014767,"z":0.014782},{"p":"R","l":"R13","i":8,"x":0.015028,"z":0.014988},
{"p":"R","l":"R14","i":1,"x":0.015005,"z":0.014885},{"p":"R","l":"R14","i":2,"x":0.014967,"z":0.014802},{"p":"R","l":"R14","i":3,"x":0.014833,"z":0.014659},{"p":"R","l":"R14","i":4,"x":0.01468,"z":0.014538},{"p":"R","l":"R14","i":5,"x":0.014599,"z":0.014512},{"p":"R","l":"R14","i":6,"x":0.014637,"z":0.014594},{"p":"R","l":"R14","i":7,"x":0.014772,"z":0.014738},{"p":"R","l":"R14","i":8,"x":0.014924,"z":0.014859}
]},
"facet": {"column": {"field": "p", "type": "nominal", "header": {"title": null, "labels": false, "labelPadding": 0, "titlePadding": 0}}},
"spacing": 21,
"spec": {
  "width": 476,
  "height": 435,
  "encoding": {
    "x": {"field": "x", "type": "quantitative", "scale": {"domain": [0, 0.035], "nice": false, "zero": false},
          "axis": {"values": [0, 0.01, 0.02, 0.03], "format": ".2~f", "title": "x", "titleY": 82, "titleBaseline": "alphabetic", "labelPadding": 20}},
    "y": {"field": "z", "type": "quantitative", "scale": {"domain": [0, 0.035], "nice": false, "zero": false},
          "axis": {"values": [0.01, 0.02, 0.03], "format": ".2~f", "title": "z", "titleAngle": 0, "titleX": -91, "titleY": 209, "titleAlign": "center", "titleBaseline": "alphabetic", "labelPadding": 11}},
    "detail": {"field": "l", "type": "nominal"},
    "order": {"field": "i", "type": "quantitative"}
  },
  "layer": [
    {"transform": [{"filter": {"field": "l", "oneOf": ["L1", "L2", "L3", "L4", "R1", "R2", "R3", "R4"]}}],
     "mark": {"type": "line", "interpolate": "basis-closed", "stroke": "#231f20", "strokeWidth": 3.2}},
    {"transform": [{"filter": {"not": {"field": "l", "oneOf": ["L1", "L2", "L3", "L4", "R1", "R2", "R3", "R4"]}}}],
     "mark": {"type": "line", "interpolate": "cardinal-closed", "stroke": "#231f20", "strokeWidth": 3.2}}
  ]
},
"title": {"text": "(b)", "orient": "bottom", "anchor": "middle", "frame": "bounds", "fontSize": 56, "fontWeight": "bold", "font": "Liberation Sans", "color": "#231f20", "offset": 4, "dx": 57},
"config": {
  "view": {"stroke": "#231f20", "strokeWidth": 1},
  "axis": {"domain": false, "grid": true, "gridColor": "#000000", "gridDash": [1, 3], "gridOpacity": 1, "gridWidth": 1,
           "ticks": true, "tickSize": -7, "tickColor": "#231f20", "tickWidth": 1,
           "labelFont": "Liberation Sans", "labelFontSize": 40, "labelColor": "#231f20",
           "titleFont": "Liberation Sans", "titleFontSize": 40, "titleFontWeight": "normal", "titleColor": "#231f20"}
}
}
